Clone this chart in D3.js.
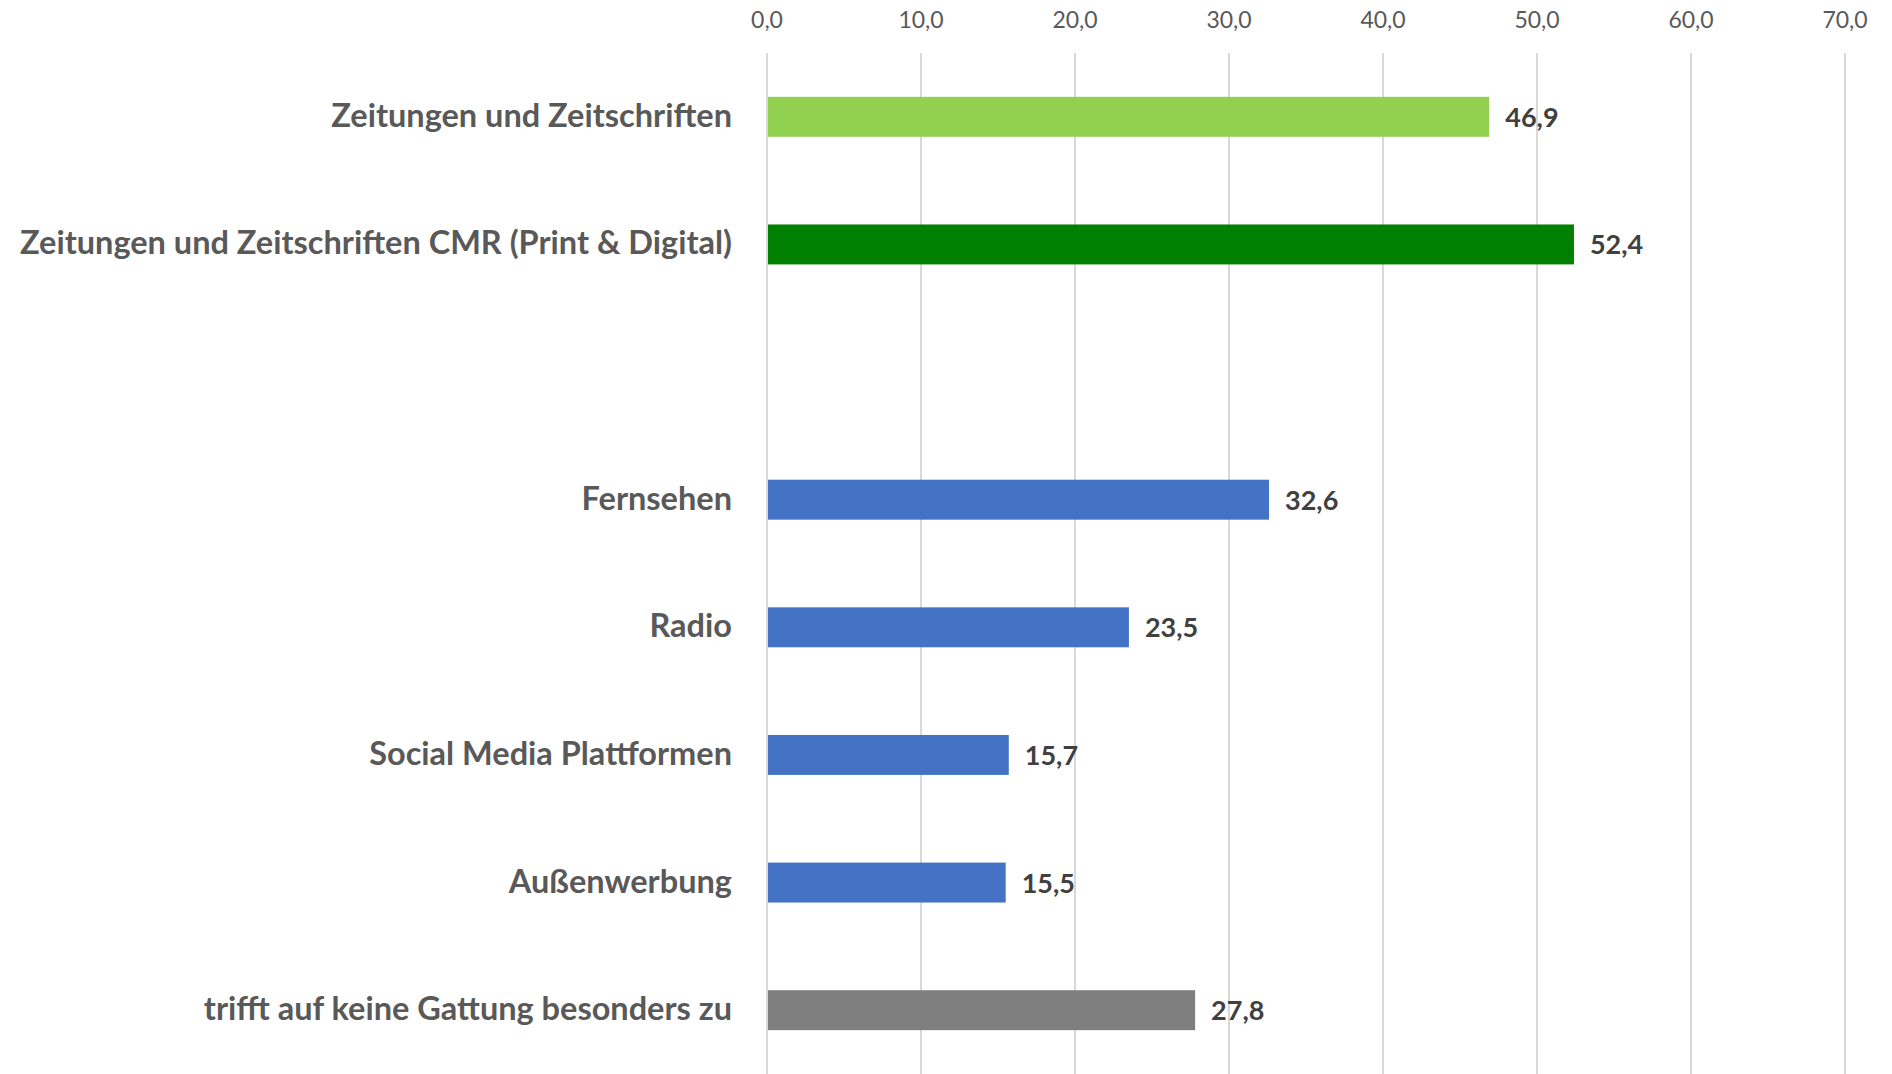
<!DOCTYPE html>
<html lang="de">
<head>
<meta charset="utf-8">
<title>Gattungen</title>
<script src="https://d3js.org/d3.v7.min.js"></script>
<style>
    body { margin: 0; background: #fff; font-family: Lato, sans-serif; }
    .grid line { stroke: #d9d9d9; stroke-width: 2; }
    .tick-label { fill: #595959; font-size: 23px; }
    .cat-label { fill: #595959; font-size: 32.5px; font-weight: bold; }
    .val-label { fill: #404040; font-size: 27px; font-weight: bold; }
</style>
</head>
<body>
<svg id="chart" width="1892" height="1074"></svg>
<script>
    // Daten
    const categories = [
        "Zeitungen und Zeitschriften",
        "Zeitungen und Zeitschriften CMR (Print & Digital)",
        "leer",
        "Fernsehen",
        "Radio",
        "Social Media Plattformen",
        "Außenwerbung",
        "trifft auf keine Gattung besonders zu"
    ];
    const values = [46.9, 52.4, null, 32.6, 23.5, 15.7, 15.5, 27.8];
    const barColors = ["#92d050", "#008000", null, "#4472c4", "#4472c4", "#4472c4", "#4472c4", "#7f7f7f"];
    const xTicks = [0, 10, 20, 30, 40, 50, 60, 70];

    const fmt = v => v.toFixed(1).replace(".", ",");

    const svg = d3.select("#chart");
    const x = d3.scaleLinear().domain([0, 70]).range([767, 1845]);
    const y = d3.scaleBand().domain(categories).range([53, 1074]).paddingInner(0.687).paddingOuter(0.3435);

    // Gitterlinien
    svg.append("g").attr("class", "grid")
        .selectAll("line").data(xTicks).enter().append("line")
        .attr("x1", d => x(d)).attr("x2", d => x(d))
        .attr("y1", 53).attr("y2", 1074);

    // Achsenbeschriftung oben
    svg.append("g").selectAll("text").data(xTicks).enter().append("text")
        .attr("class", "tick-label")
        .attr("x", d => x(d)).attr("y", 28)
        .attr("text-anchor", "middle")
        .text(fmt);

    const rows = categories.map((c, i) => ({cat: c, value: values[i], color: barColors[i]}))
        .filter(d => d.value !== null);

    svg.append("g").selectAll("rect").data(rows).enter().append("rect")
        .attr("x", x(0) + 1)
        .attr("y", d => y(d.cat))
        .attr("width", d => x(d.value) - x(0) - 1)
        .attr("height", y.bandwidth())
        .attr("fill", d => d.color);

    svg.append("g").selectAll("text").data(rows).enter().append("text")
        .attr("class", "cat-label")
        .attr("x", 732)
        .attr("y", d => y(d.cat) + y.bandwidth() / 2 + 10)
        .attr("text-anchor", "end")
        .text(d => d.cat);

    svg.append("g").selectAll("text").data(rows).enter().append("text")
        .attr("class", "val-label")
        .attr("x", d => x(d.value) + 16)
        .attr("y", d => y(d.cat) + y.bandwidth() / 2 + 10)
        .text(d => fmt(d.value));
</script>
</body>
</html>
